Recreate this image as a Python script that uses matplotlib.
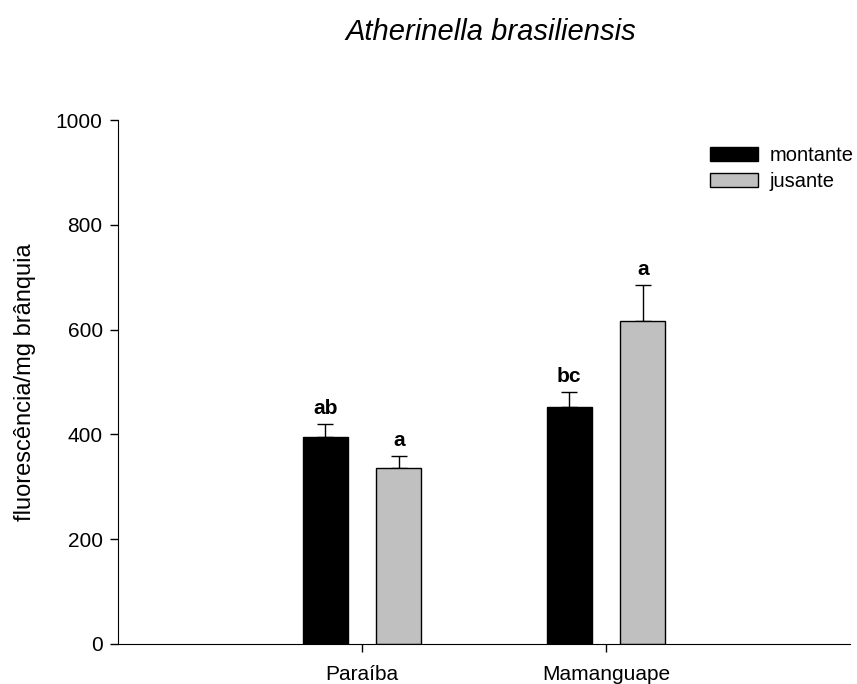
import matplotlib
matplotlib.use("Agg")
import matplotlib.pyplot as plt
import numpy as np

plt.rcParams["font.family"] = ["Liberation Sans", "DejaVu Sans"]

sites = ["Paraíba", "Mamanguape"]
series = ["montante", "jusante"]
montante = [395, 452]
montante_err = [25, 29]
jusante = [335, 617]
jusante_err = [24, 68]
letters_montante = ["ab", "bc"]
letters_jusante = ["a", "a"]

fig = plt.figure(figsize=(8.57, 6.84), dpi=100)
ax = fig.add_axes([0.1377, 0.0585, 0.854, 0.766])

x = np.arange(1, len(sites) + 1)
width = 0.184
off = 0.151

ax.bar(x - off, montante, width, color="black", edgecolor="black",
       linewidth=1, label=series[0], zorder=2)
ax.bar(x + off, jusante, width, color="#c0c0c0", edgecolor="black",
       linewidth=1, label=series[1], zorder=2)

# upper error bars only
ax.errorbar(x - off, montante, yerr=[np.zeros(2), montante_err], fmt="none",
            ecolor="black", elinewidth=1, capsize=5.5, capthick=1, zorder=1)
ax.errorbar(x + off, jusante, yerr=[np.zeros(2), jusante_err], fmt="none",
            ecolor="black", elinewidth=1, capsize=5.5, capthick=1, zorder=1)

for xi, v, e, t in zip(x - off, montante, montante_err, letters_montante):
    ax.text(xi, v + e + 12, t, ha="center", va="bottom", fontsize=15, fontweight="bold")
for xi, v, e, t in zip(x + off, jusante, jusante_err, letters_jusante):
    ax.text(xi, v + e + 12, t, ha="center", va="bottom", fontsize=15, fontweight="bold")

ax.set_xlim(0, 3)
ax.set_ylim(0, 1000)
ax.set_yticks(range(0, 1001, 200))
ax.set_xticks(x)
ax.set_xticklabels(sites)
ax.tick_params(axis="both", direction="out", length=6, width=1, labelsize=15)
ax.tick_params(axis="x", pad=9)
ax.tick_params(axis="y", pad=5)
ax.spines["top"].set_visible(False)
ax.spines["right"].set_visible(False)
ax.set_ylabel("fluorescência/mg brânquia", fontsize=17, labelpad=14)

fig.text(0.573, 0.953, "Atherinella brasiliensis", ha="center", va="center",
         fontsize=21, style="italic")

ax.legend(loc="upper right", bbox_to_anchor=(1.03, 0.985), frameon=False,
          fontsize=14.5, handlelength=2.35, handleheight=0.75, labelspacing=0.35,
          handletextpad=0.6)

fig.savefig("out.png", dpi=100)
